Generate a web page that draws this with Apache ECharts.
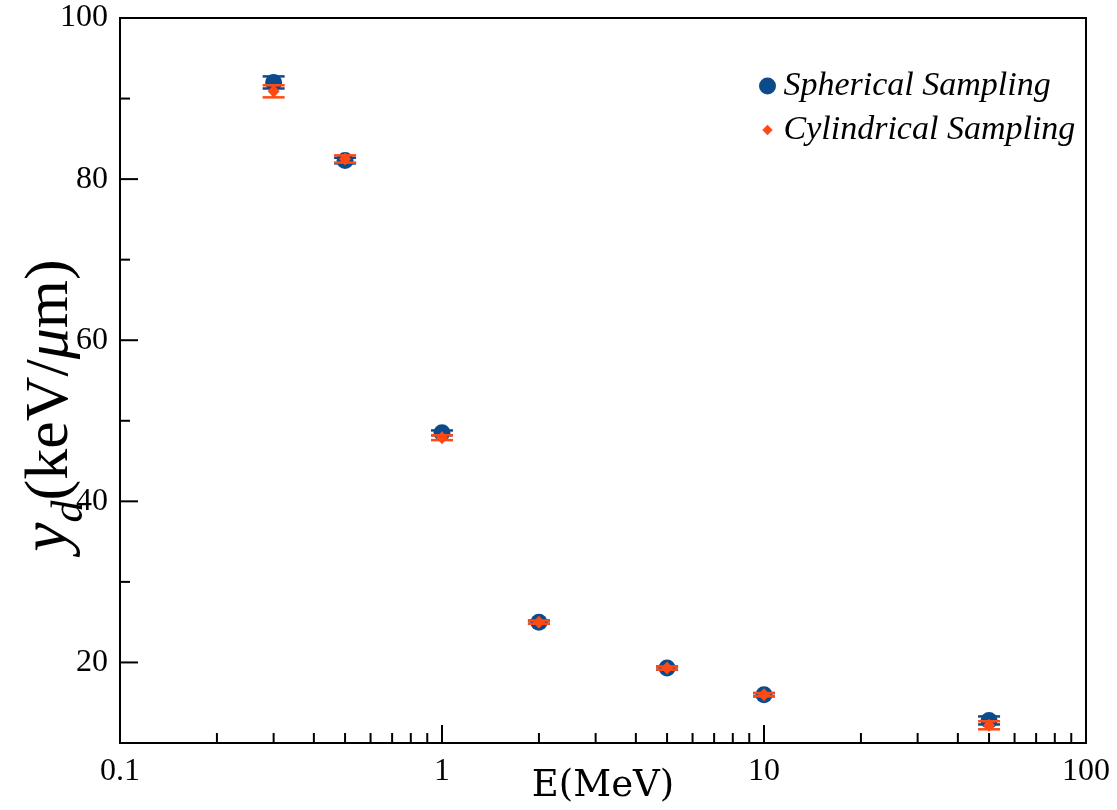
<!DOCTYPE html>
<html>
<head>
<meta charset="utf-8">
<script src="https://cdn.jsdelivr.net/npm/echarts@6/dist/echarts.min.js"></script>
<style>
  html, body { margin: 0; padding: 0; background: #fff; }
  #chart { width: 1117px; height: 810px; }
</style>
</head>
<body>
<div id="chart"></div>
<script>
// ---- data ----
const energies = [0.3, 0.5, 1, 2, 5, 10, 50];
const sphericalY   = [92.0, 82.3, 48.5, 25.0, 19.3, 16.0, 12.8];
const sphericalErr = [0.75, 0.35, 0.3, 0.2, 0.2, 0.2, 0.5];
const cylindricalY   = [90.9, 82.5, 47.9, 25.0, 19.3, 16.0, 12.2];
const cylindricalErr = [0.75, 0.45, 0.3, 0.2, 0.2, 0.2, 0.5];
const seriesNames = ['Spherical Sampling', 'Cylindrical Sampling'];
const xTickLabels = [0.1, 1, 10, 100];
const yTickLabels = [20, 40, 60, 80, 100];
const xMajorTicks = [1, 10];
const xMinorTicks = [0.2, 0.3, 0.4, 0.5, 0.6, 0.7, 0.8, 0.9, 2, 3, 4, 5, 6, 7, 8, 9, 20, 30, 40, 50, 60, 70, 80, 90];
const yMajorTicks = [20, 40, 60, 80];
const yMinorTicks = [30, 50, 70, 90];

const X_MIN = 0.1, X_MAX = 100, Y_MIN = 10, Y_MAX = 100;
const BLUE = '#0b4a8b';
const ORANGE = '#ff4a14';
const SERIF = "'Liberation Serif', 'DejaVu Serif', serif";

const chart = echarts.init(document.getElementById('chart'));

function errorBarSeries(name, ys, errs, color) {
  return {
    name: name,
    type: 'custom',
    itemStyle: { color: color },
    data: energies.map((x, i) => [x, ys[i], errs[i]]),
    renderItem: function (params, api) {
      const x = api.value(0), y = api.value(1), e = api.value(2);
      const top = api.coord([x, y + e]);
      const bot = api.coord([x, y - e]);
      const hw = 11;
      const style = { stroke: color, lineWidth: 2.5 };
      return {
        type: 'group',
        children: [
          { type: 'line', shape: { x1: top[0], y1: top[1], x2: bot[0], y2: bot[1] }, style: style },
          { type: 'line', shape: { x1: top[0] - hw, y1: top[1], x2: top[0] + hw, y2: top[1] }, style: style },
          { type: 'line', shape: { x1: bot[0] - hw, y1: bot[1], x2: bot[0] + hw, y2: bot[1] }, style: style }
        ]
      };
    },
    silent: true
  };
}

const allXTicks = xMajorTicks.concat(xMinorTicks);
const allYTicks = yMajorTicks.concat(yMinorTicks);

const option = {
  animation: false,
  backgroundColor: '#fff',
  grid: {
    left: 120, right: 31, top: 18, bottom: 67,
    containLabel: false,
    outerBoundsMode: 'none',
    show: true, borderColor: '#000', borderWidth: 2, backgroundColor: 'transparent'
  },
  legend: {
    orient: 'vertical',
    left: 754,
    top: 64,
    itemGap: 10,
    itemWidth: 22,
    itemHeight: 17,
    textStyle: { fontFamily: SERIF, fontStyle: 'italic', fontSize: 34, color: '#000', lineHeight: 34 },
    data: [
      { name: seriesNames[0], icon: 'circle', itemStyle: { color: BLUE } },
      { name: seriesNames[1], icon: 'path://M0,0 M18,18 M9,3.5 L14.5,9 L9,14.5 L3.5,9 Z', itemStyle: { color: ORANGE } }
    ]
  },
  xAxis: {
    type: 'log',
    logBase: 10,
    min: X_MIN,
    max: X_MAX,
    name: 'E(MeV)',
    nameLocation: 'middle',
    nameGap: 25,
    nameMoveOverlap: false,
    nameTextStyle: { fontFamily: 'DejaVu Serif', fontSize: 37, color: '#000' },
    axisLine: { show: true, onZero: false, lineStyle: { color: '#000', width: 2 } },
    axisTick: { show: false },
    splitLine: { show: false },
    axisLabel: {
      fontFamily: SERIF, fontSize: 32, color: '#000', margin: 13,
      formatter: function (v) {
        const m = xTickLabels.find(t => Math.abs(Math.log10(t) - Math.log10(v)) < 1e-6);
        return m !== undefined ? String(m) : '';
      }
    }
  },
  yAxis: {
    type: 'value',
    min: Y_MIN,
    max: Y_MAX,
    interval: 10,
    name: '{y|y}{d|d}{p|(keV/}{mu|μ}{p|m)}',
    nameLocation: 'middle',
    nameRotate: 90,
    nameGap: 38,
    nameMoveOverlap: false,
    nameTextStyle: {
      padding: [0, 50, 0, 0],
      rich: {
        y: { fontFamily: SERIF, fontStyle: 'italic', fontSize: 66, color: '#000', verticalAlign: 'bottom' },
        d: { fontFamily: SERIF, fontStyle: 'italic', fontSize: 44, color: '#000', verticalAlign: 'bottom', padding: [0, 0, -10, 0] },
        p: { fontFamily: SERIF, fontSize: 62, color: '#000', verticalAlign: 'bottom' },
        mu: { fontFamily: SERIF, fontStyle: 'italic', fontSize: 62, color: '#000', verticalAlign: 'bottom' }
      }
    },
    axisLine: { show: true, onZero: false, lineStyle: { color: '#000', width: 2 } },
    axisTick: { show: false },
    splitLine: { show: false },
    axisLabel: {
      fontFamily: SERIF, fontSize: 32, color: '#000', margin: 12,
      formatter: function (v) { return yTickLabels.includes(v) ? String(v) : ''; }
    }
  },
  series: [
    {
      name: 'xTicks',
      type: 'custom',
      silent: true,
      clip: false,
      data: allXTicks.map(v => [v, Y_MIN]),
      renderItem: function (params, api) {
        const v = api.value(0);
        const p = api.coord([v, Y_MIN]);
        const len = xMajorTicks.includes(v) ? 18 : 10;
        return { type: 'line', shape: { x1: p[0], y1: p[1], x2: p[0], y2: p[1] - len }, style: { stroke: '#000', lineWidth: 2 } };
      },
      z: 1
    },
    {
      name: 'yTicks',
      type: 'custom',
      silent: true,
      clip: false,
      data: allYTicks.map(v => [X_MIN, v]),
      renderItem: function (params, api) {
        const v = api.value(1);
        const p = api.coord([X_MIN, v]);
        const len = yMajorTicks.includes(v) ? 18 : 10;
        return { type: 'line', shape: { x1: p[0], y1: p[1], x2: p[0] + len, y2: p[1] }, style: { stroke: '#000', lineWidth: 2 } };
      },
      z: 1
    },
    Object.assign(errorBarSeries(seriesNames[0], sphericalY, sphericalErr, BLUE), { z: 3 }),
    {
      name: seriesNames[0],
      type: 'scatter',
      symbol: 'circle',
      symbolSize: 17,
      itemStyle: { color: BLUE, opacity: 1 },
      data: energies.map((x, i) => [x, sphericalY[i]]),
      z: 4
    },
    Object.assign(errorBarSeries(seriesNames[1], cylindricalY, cylindricalErr, ORANGE), { z: 5 }),
    {
      name: seriesNames[1],
      type: 'scatter',
      symbol: 'diamond',
      symbolSize: [12, 13],
      itemStyle: { color: ORANGE, opacity: 1 },
      data: energies.map((x, i) => [x, cylindricalY[i]]),
      z: 6
    }
  ]
};
chart.setOption(option);
</script>
</body>
</html>
